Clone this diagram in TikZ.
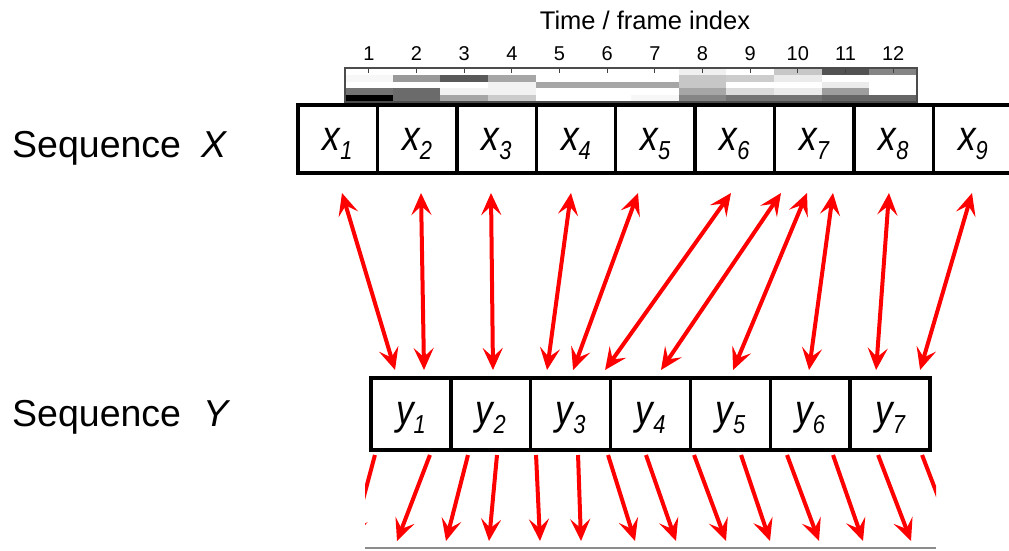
\documentclass[tikz,border=0pt]{standalone}
\usepackage{fontspec}
\usepackage{graphicx}
\setmainfont{Liberation Sans}
\usetikzlibrary{arrows.meta}
% narrow italic frame label with a lowered subscript
\newcommand\framelab[2]{\scalebox{0.84}[1]{#1\raisebox{-9pt}{\fontsize{26}{26}\selectfont #2}}}
\begin{document}
\begin{tikzpicture}[x=1pt,y=-1pt,
  seqbox/.style={draw=black, line width=3.4pt, fill=white, inner sep=0pt,
    outer sep=0pt, font=\fontsize{42}{44}\selectfont\itshape},
  xbox/.style={seqbox, minimum width=79.4pt, minimum height=68pt,
    text height=22pt, text depth=0pt},
  ybox/.style={seqbox, minimum width=79.86pt, minimum height=72pt,
    text height=20pt, text depth=0pt},
  match/.style={red, line width=4pt, {Stealth[length=22pt,width=20pt,inset=9pt]}-{Stealth[length=22pt,width=20pt,inset=9pt]}},
  onward/.style={red, line width=4pt, -{Stealth[length=22pt,width=20pt,inset=9pt]}},
  seqlabel/.style={anchor=base west, inner sep=0pt, font=\fontsize{37.5}{40}\selectfont},
  ticklabel/.style={inner sep=0pt, font=\fontsize{20}{22}\selectfont},
  titlelabel/.style={inner sep=0pt, font=\fontsize{25.5}{28}\selectfont}
]
\useasboundingbox (0,0) rectangle (1009,551);

% ---- feature strip (12 frames x 5 bands, values in % black) ----
\foreach \c/\a/\b/\d/\e/\f in {
  1/0/3/0/55/100, 2/0/40/0/58/58, 3/0/65/0/5/35, 4/0/35/5/5/20,
  5/0/0/35/0/0, 6/0/0/35/0/0, 7/0/0/35/0/3, 8/6/22/22/35/48,
  9/0/20/0/14/55, 10/22/8/0/8/55, 11/68/0/8/38/60, 12/48/0/0/0/60} {
  \foreach \v [count=\r] in {\a,\b,\d,\e,\f} {
    \fill[black!\v] ({345+(\c-1)*47.667},{68+(\r-1)*6.8}) rectangle ++(47.667,6.8);
  }
  \draw[line width=1pt, black!75] ({345+(\c-0.5)*47.667},68) -- ++(0,5);
  \node[ticklabel] (t\c) at ({345+(\c-0.5)*47.667},54) {\c};
}
\draw[line width=1.3pt, black!70] (345,68) rectangle (917,102);
\node[titlelabel] (title) at (645,20) {Time / frame index};

% ---- sequence labels ----
\node[seqlabel] (seqX) at (12,157) {Sequence\hspace{20pt}\textit{X}};
\node[seqlabel] (seqY) at (12,426) {Sequence\hspace{22pt}\textit{Y}};

% ---- sequence X ----
\foreach \i in {1,...,9} {
  \node[xbox] (x\i) at ({298+(\i-0.5)*79.4},139) {\framelab{x}{\i}};
}

% ---- sequence Y ----
\foreach \i in {1,...,7} {
  \node[ybox] (y\i) at ({371+(\i-0.5)*79.86},414) {\framelab{y}{\i}};
}

% ---- alignment between X and Y ----
\foreach \xa/\dx/\yb/\dy in {
  x1/4.3/y1/-15.9, x2/3.9/y1/13.1, x3/-5.5/y2/2.2, x4/-4.9/y3/-23.6,
  x5/-17.3/y3/2.4, x6/-3.7/y3/34.4, x7/-33.1/y4/10.5, x7/-7.1/y5/2.7,
  x7/18.9/y6/-1.2, x8/-4.5/y7/-14, x9/-0.9/y7/30} {
  \draw[match] ([xshift=\dx pt,yshift=-20pt]\xa.south) -- ([xshift=\dy pt,yshift=8pt]\yb.north);
}

% ---- links from Y onward ----
\begin{scope}
  \clip (365,440) rectangle (936,551);
  \draw[line width=1.6pt, black!45] (365,548) -- (936,548);
  \foreach \yb/\dy/\tx [count=\k] in {
    y1/-36/352, y1/19/397, y2/-22.8/446, y2/6.2/489, y3/-34.6/540,
    y3/7.4/581, y3/37.4/635, y4/-4.5/676, y5/-36.3/726, y5/10.7/770,
    y6/-23.2/819, y6/22.8/863, y7/-12/911, y7/32/955} {
    \coordinate (n\k) at (\tx,541);
    \draw[onward] ([xshift=\dy pt,yshift=-5pt]\yb.south) -- (n\k);
  }
\end{scope}
\end{tikzpicture}
\end{document}
